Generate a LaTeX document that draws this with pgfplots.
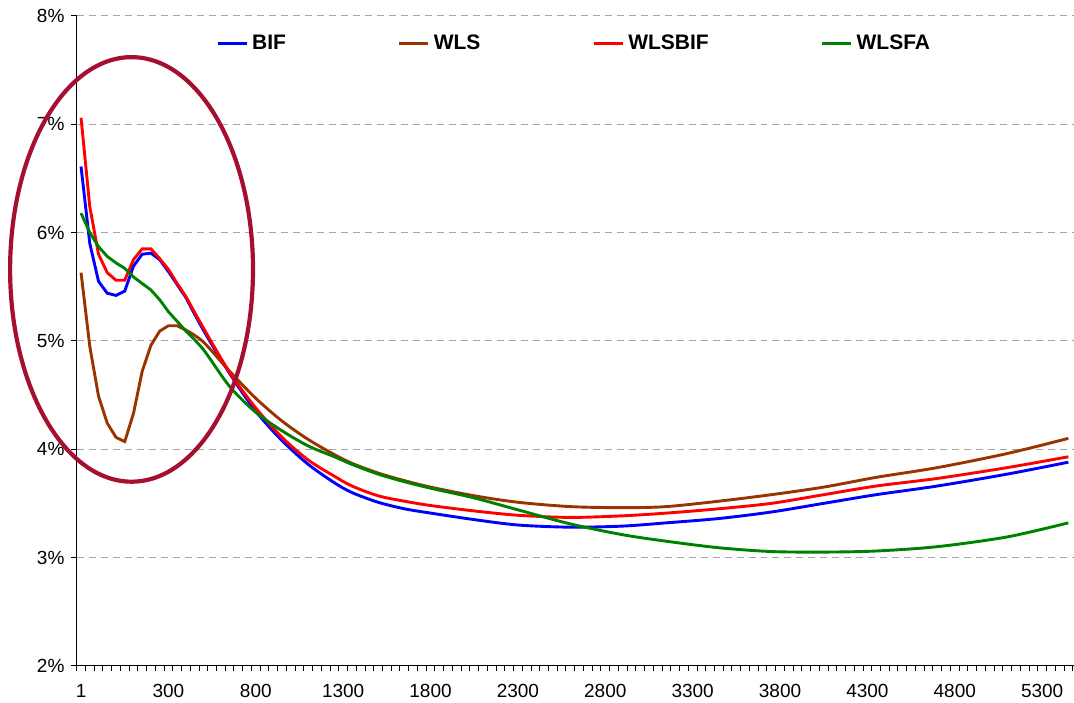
\documentclass[border=0pt]{standalone}
\usepackage{fontspec}
\setmainfont{Liberation Sans}
\usepackage{pgfplots}
\pgfplotsset{compat=1.18}
\usetikzlibrary{calc}
\definecolor{cbif}{HTML}{0000FF}
\definecolor{cwls}{HTML}{993300}
\definecolor{cwlsbif}{HTML}{FF0000}
\definecolor{cwlsfa}{HTML}{008000}
\definecolor{ring}{HTML}{A50F30}
\definecolor{gridc}{HTML}{A6A6A6}
\begin{document}
\begin{tikzpicture}
\begin{axis}[
  scale only axis, width=498.6pt, height=325pt,
  xmin=-0.5, xmax=113.6, ymin=2, ymax=8,
  axis x line*=bottom, axis y line*=left,
  axis line style={black, line width=0.5pt},
  xtick={0,10,...,110},
  xticklabels={1,300,800,1300,1800,2300,2800,3300,3800,4300,4800,5300},
  minor xtick={-0.5,0.5,...,113.5},
  major x tick style={draw=none},
  minor tick length=2.6pt, major tick length=2.6pt,
  tick align=outside, tick style={black, line width=0.5pt},
  ytick={2,3,...,8},
  yticklabels={2\%,3\%,4\%,5\%,6\%,7\%,8\%},
  ymajorgrids, grid style={gridc, line width=0.5pt, dash pattern=on 3.5pt off 2.5pt},
  tick label style={font=\fontsize{9.5}{11}\selectfont},
  xticklabel style={yshift=-3pt},
  legend style={at={(0.5,0.958)}, anchor=center, draw=none, fill=none,
    legend columns=4, font=\fontsize{10.5}{12}\selectfont\bfseries,
    /tikz/every even column/.append style={column sep=54pt}},
  legend image code/.code={\draw[#1] (0pt,0pt) -- (14.5pt,0pt);},
  clip=false,
]
\coordinate (bl) at (rel axis cs:0,0);
\coordinate (tr) at (rel axis cs:1,1);

% BIF
\addplot[cbif, line width=1.45pt] coordinates {
  (0,6.61)(1,5.90)(2,5.55)(3,5.44)(4,5.42)(5,5.46)(6,5.69)(7,5.80)(8,5.81)
  (9,5.75)(10,5.64)(11,5.52)(12,5.40)};
\addlegendentry{BIF}
% WLS
\addplot[cwls, line width=1.45pt] coordinates {
  (0,5.63)(1,4.95)(2,4.49)(3,4.24)(4,4.11)(5,4.07)(6,4.33)(7,4.72)(8,4.96)
  (9,5.09)(10,5.14)(11,5.14)(12,5.10)};
\addlegendentry{WLS}
% WLSBIF
\addplot[cwlsbif, line width=1.45pt] coordinates {
  (0,7.06)(1,6.24)(2,5.80)(3,5.63)(4,5.56)(5,5.56)(6,5.75)(7,5.85)(8,5.85)
  (9,5.76)(10,5.66)(11,5.53)(12,5.41)};
\addlegendentry{WLSBIF}
% WLSFA
\addplot[cwlsfa, line width=1.45pt] coordinates {
  (0,6.18)(1,6.00)(2,5.87)(3,5.78)(4,5.72)(5,5.67)(6,5.59)(7,5.53)(8,5.47)
  (9,5.38)(10,5.27)(11,5.18)(12,5.09)};
\addlegendentry{WLSFA}

% smooth tails
\addplot[cbif, line width=1.45pt, smooth, forget plot] coordinates {
  (12,5.40)(14,5.10)(17,4.70)(20,4.35)(23,4.08)(26,3.86)(29,3.69)(31,3.60)
  (34,3.51)(37,3.45)(40,3.41)(45,3.35)(50,3.30)(56,3.28)(62,3.29)(67,3.32)
  (73,3.36)(79,3.42)(85,3.50)(91,3.58)(98,3.66)(106,3.77)(113,3.88)};
\addplot[cwls, line width=1.45pt, smooth, forget plot] coordinates {
  (12,5.10)(14,4.99)(17,4.72)(20,4.47)(23,4.26)(26,4.09)(29,3.95)(31,3.87)
  (34,3.78)(37,3.71)(40,3.65)(45,3.57)(50,3.51)(56,3.47)(62,3.46)(67,3.47)
  (73,3.52)(79,3.58)(85,3.65)(91,3.74)(98,3.83)(106,3.96)(113,4.10)};
\addplot[cwlsbif, line width=1.45pt, smooth, forget plot] coordinates {
  (12,5.41)(14,5.12)(17,4.71)(20,4.38)(23,4.11)(26,3.90)(29,3.75)(31,3.66)
  (34,3.57)(37,3.52)(40,3.48)(45,3.43)(50,3.39)(56,3.37)(62,3.385)(67,3.41)
  (73,3.45)(79,3.50)(85,3.58)(91,3.66)(98,3.73)(106,3.83)(113,3.93)};
\addplot[cwlsfa, line width=1.45pt, smooth, forget plot] coordinates {
  (12,5.09)(14,4.92)(17,4.58)(20,4.34)(23,4.17)(26,4.03)(29,3.93)(31,3.86)
  (34,3.77)(37,3.70)(40,3.64)(45,3.55)(50,3.44)(56,3.31)(62,3.21)(67,3.15)
  (73,3.09)(79,3.055)(85,3.05)(91,3.06)(98,3.10)(106,3.19)(113,3.32)};

\draw[ring, line width=2.1pt] (axis cs:5.78,5.66) ellipse [x radius=13.9, y radius=1.96];
\end{axis}
\pgfresetboundingbox
\path[use as bounding box] ($(bl)+(-38.35pt,-18.5pt)$) rectangle ($(tr)+(0.2pt,8pt)$);
\end{tikzpicture}
\end{document}
